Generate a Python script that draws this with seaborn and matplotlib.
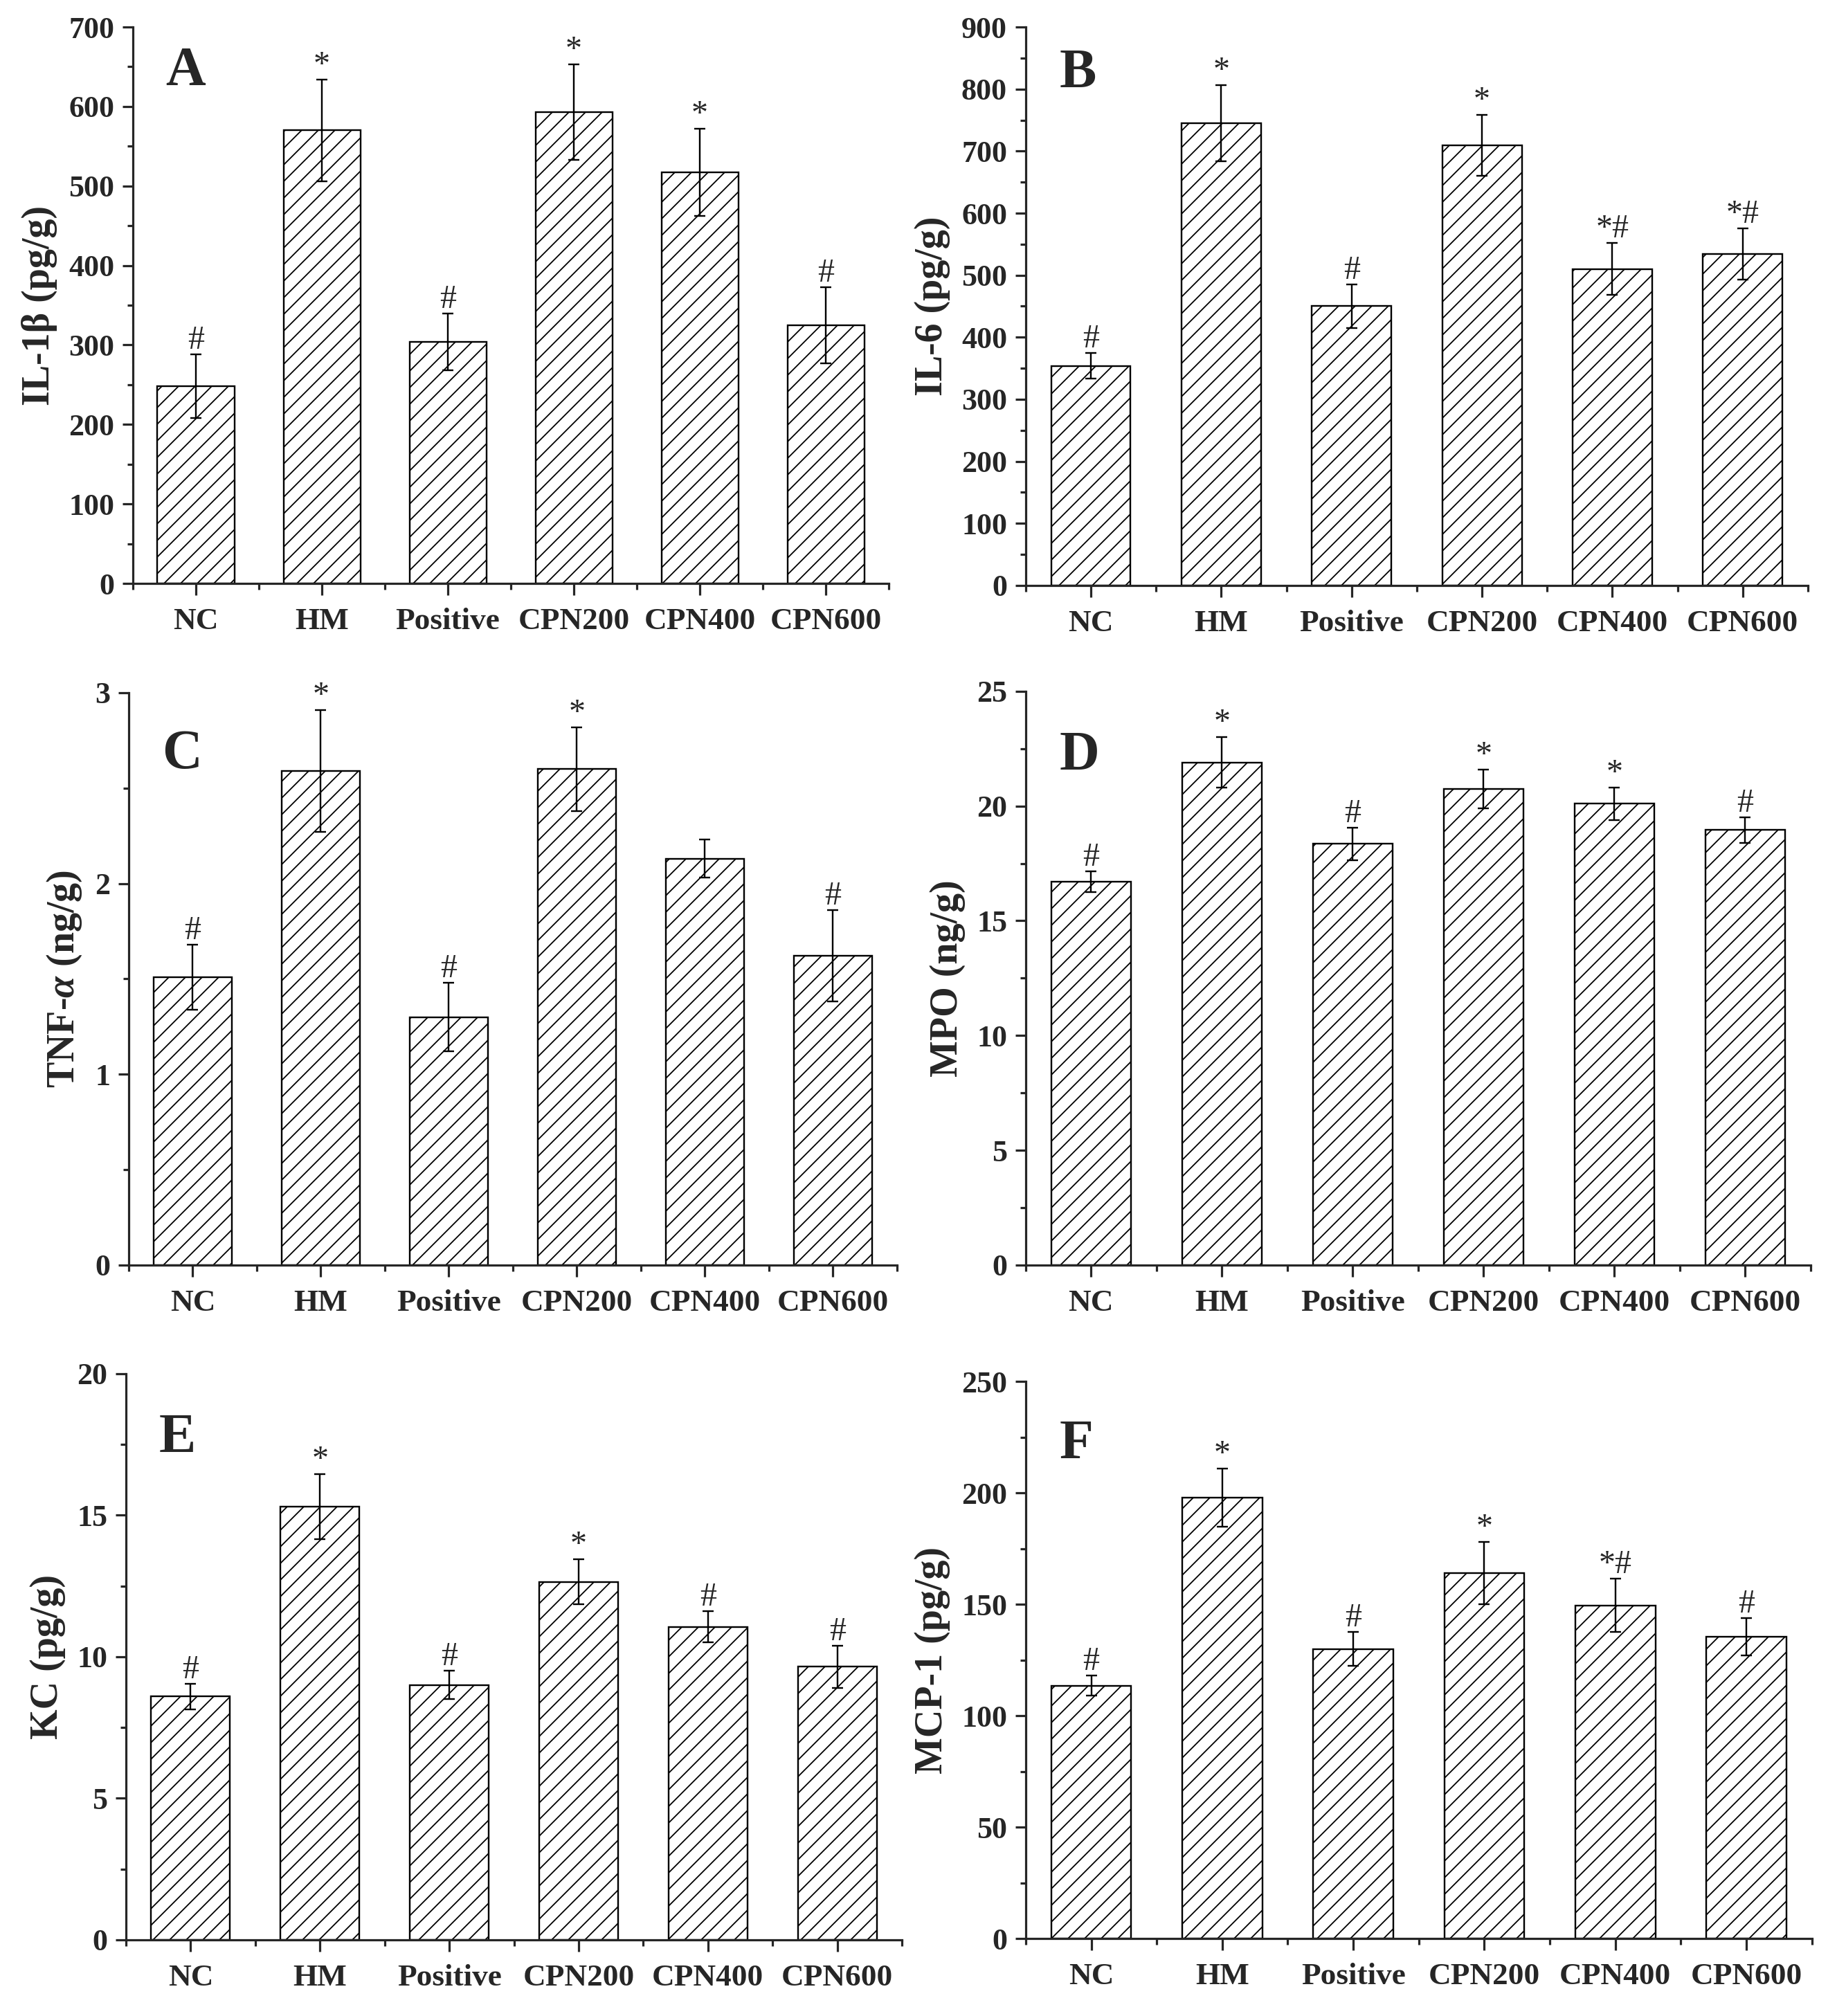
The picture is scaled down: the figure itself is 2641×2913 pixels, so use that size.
import numpy as np
import pandas as pd
import seaborn as sns
import matplotlib.pyplot as plt
from matplotlib.ticker import MultipleLocator, FixedLocator

# groups on the x axis
groups = ["NC", "HM", "Positive", "CPN200", "CPN400", "CPN600"]

# panel A - IL-1b
il1b_mean = [248, 570, 304, 593, 517, 325]
il1b_err = [40, 64, 36, 60, 55, 48]
il1b_sig = ["#", "*", "#", "*", "*", "#"]

# panel B - IL-6
il6_mean = [354, 745, 450, 709, 510, 534]
il6_err = [21, 61, 35, 49, 42, 41]
il6_sig = ["#", "*", "#", "*", "*#", "*#"]

# panel C - TNF-a
tnf_mean = [1.51, 2.59, 1.30, 2.60, 2.13, 1.62]
tnf_err = [0.17, 0.32, 0.18, 0.22, 0.10, 0.24]
tnf_sig = ["#", "*", "#", "*", "", "#"]

# panel D - MPO
mpo_mean = [16.7, 21.9, 18.35, 20.75, 20.1, 18.95]
mpo_err = [0.45, 1.1, 0.7, 0.85, 0.7, 0.55]
mpo_sig = ["#", "*", "#", "*", "*", "#"]

# panel E - KC
kc_mean = [8.6, 15.3, 9.0, 12.65, 11.05, 9.65]
kc_err = [0.45, 1.15, 0.5, 0.8, 0.55, 0.75]
kc_sig = ["#", "*", "#", "*", "#", "#"]

# panel F - MCP-1
mcp_mean = [113.5, 198, 130, 164, 149.5, 135.5]
mcp_err = [4.5, 13, 7.5, 14, 12, 8.5]
mcp_sig = ["#", "*", "#", "*", "*#", "#"]

sns.set_style("ticks")
plt.rcParams['font.family'] = ['Liberation Serif', 'DejaVu Serif']
plt.rcParams['font.weight'] = 'bold'
plt.rcParams['axes.labelweight'] = 'bold'
plt.rcParams['mathtext.fontset'] = 'custom'
plt.rcParams['mathtext.rm'] = 'Liberation Serif:bold'
plt.rcParams['mathtext.it'] = 'Liberation Serif:italic:bold'
plt.rcParams['mathtext.bf'] = 'Liberation Serif:bold'
plt.rcParams['hatch.linewidth'] = 0.45
plt.rcParams['hatch.color'] = 'black'

panels = [
    ("A", "IL-1β (pg/g)", il1b_mean, il1b_err, il1b_sig, 700, 100, [0.0727, 0.7106, 0.4135, 0.2760], 0.895),
    ("B", "IL-6 (pg/g)", il6_mean, il6_err, il6_sig, 900, 100, [0.5611, 0.7096, 0.4279, 0.2770], 0.892),
    ("C", "TNF-$\\alpha$ (ng/g)", tnf_mean, tnf_err, tnf_sig, 3, 1, [0.0704, 0.3725, 0.4203, 0.2839], 0.868),
    ("D", "MPO (ng/g)", mpo_mean, mpo_err, mpo_sig, 25, 5, [0.5611, 0.3725, 0.4294, 0.2846], 0.864),
    ("E", "KC (pg/g)", kc_mean, kc_err, kc_sig, 20, 5, [0.0689, 0.0378, 0.4245, 0.2808], 0.862),
    ("F", "MCP-1 (pg/g)", mcp_mean, mcp_err, mcp_sig, 250, 50, [0.5611, 0.0384, 0.4301, 0.2763], 0.862),
]

fig = plt.figure(figsize=(2641 / 288, 2913 / 288), dpi=288)

for letter, ylab, mean, err, sig, ymax, step, rect, ly in panels:
    ax = fig.add_axes(rect)
    df = pd.DataFrame({"group": groups, "value": mean})
    sns.barplot(data=df, x="group", y="value", order=groups, ax=ax,
                color="white", saturation=1, edgecolor="black",
                linewidth=0.6, width=0.61, errorbar=None)
    for p in ax.patches:
        p.set_hatch("////")
    ax.errorbar(np.arange(len(groups)), mean, yerr=err, fmt="none",
                ecolor="black", elinewidth=0.6, capsize=1.9, capthick=0.6)
    for i, (m, e, s) in enumerate(zip(mean, err, sig)):
        if s:
            ax.annotate(s, (i, m + e), xytext=(0, 2.0), textcoords="offset points",
                        ha="center", va="baseline", fontsize=12, fontweight="normal")

    ax.set_xlim(-0.5, 5.5)
    ax.set_ylim(0, ymax)
    ax.yaxis.set_major_locator(MultipleLocator(step))
    ax.yaxis.set_minor_locator(MultipleLocator(step / 2))
    ax.xaxis.set_minor_locator(FixedLocator(np.arange(-0.5, 6, 1)))
    sns.despine(ax=ax)
    for sp in ["left", "bottom"]:
        ax.spines[sp].set_linewidth(0.8)
    ax.tick_params(axis="x", which="major", direction="out", length=4.2, width=0.8,
                   pad=4.5, labelsize=11.3)
    ax.tick_params(axis="x", which="minor", direction="out", length=2.2, width=0.8)
    ax.tick_params(axis="y", which="major", direction="out", length=3.7, width=0.8,
                   pad=3, labelsize=11)
    ax.tick_params(axis="y", which="minor", direction="out", length=2.0, width=0.8)
    ax.set_xlabel("")
    ax.set_ylabel(ylab, fontsize=14, labelpad=4)
    ax.text(0.043, ly, letter, transform=ax.transAxes, fontsize=20,
            fontweight="bold", ha="left", va="baseline")

fig.savefig("out.png", dpi=288, facecolor="white")
